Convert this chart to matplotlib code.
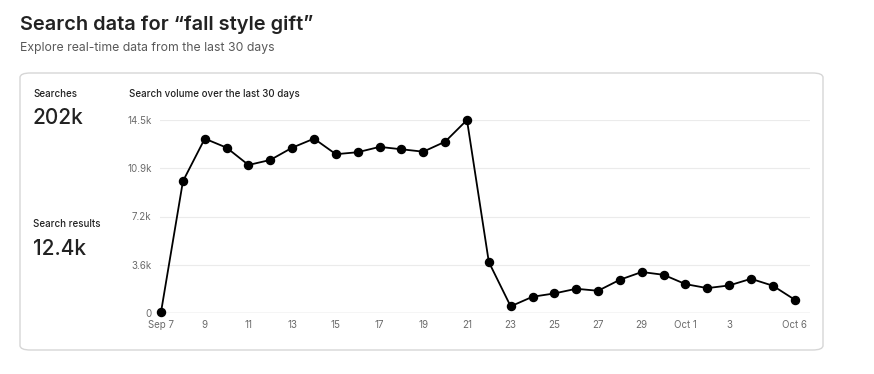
"""Search volume card for "fall style gift"."""

import matplotlib
matplotlib.use('Agg')
import matplotlib.pyplot as plt
from matplotlib.patches import FancyBboxPatch
import numpy as np

W, H = 874, 374

# Datos
dias = ['Sep 7', '8', '9', '10', '11', '12', '13', '14', '15', '16', '17',
        '18', '19', '20', '21', '22', '23', '24', '25', '26', '27', '28',
        '29', '30', 'Oct 1', '2', '3', '4', '5', 'Oct 6']
busquedas = [100, 9900, 13100, 12420, 11120, 11500, 12420, 13100, 11930,
             12080, 12480, 12300, 12120, 12870, 14500, 3830, 500, 1220,
             1470, 1820, 1670, 2500, 3080, 2870, 2170, 1870, 2070, 2570,
             2050, 1000]
y_ticks = [0, 3625, 7250, 10875, 14500]
y_labels = ['0', '3.6k', '7.2k', '10.9k', '14.5k']
x_tick_idx = [0, 2, 4, 6, 8, 10, 12, 14, 16, 18, 20, 22, 24, 26, 29]

plt.rcParams['font.family'] = ['Inter', 'DejaVu Sans']


def fx(px):
    return px / W


def fy(py):
    return 1 - py / H


fig = plt.figure(figsize=(W / 100, H / 100), dpi=100)
fig.patch.set_facecolor('white')

# Encabezado
fig.text(fx(20), fy(24), 'Search data for \u201cfall style gift\u201d',
         fontsize=14.4, fontweight='semibold', color='#222222', va='center')
fig.text(fx(20), fy(48), 'Explore real-time data from the last 30 days',
         fontsize=8.8, color='#595959', va='center')

# Tarjeta
card = FancyBboxPatch((fx(20), fy(350)), fx(803), fy(73) - fy(350),
                      boxstyle='round,pad=0,rounding_size=0.012',
                      transform=fig.transFigure, facecolor='white',
                      edgecolor='#d6d6d6', lw=1, zorder=-5)
fig.patches.append(card)

fig.text(fx(33), fy(94), 'Searches', fontsize=7, color='#222222',
         va='center', fontweight='medium')
fig.text(fx(33), fy(118), '202k', fontsize=15, color='#222222',
         va='center', fontweight='medium')
fig.text(fx(33), fy(224), 'Search results', fontsize=7, color='#222222',
         va='center', fontweight='medium')
fig.text(fx(33), fy(249), '12.4k', fontsize=15, color='#222222',
         va='center', fontweight='medium')
fig.text(fx(129), fy(94), 'Search volume over the last 30 days', fontsize=7,
         color='#222222', va='center', fontweight='medium')

# Gráfico
ax = fig.add_axes([fx(160), fy(313), fx(810) - fx(160), fy(120) - fy(313)])
ax.set_zorder(2)
ax.patch.set_visible(False)
x = np.arange(len(busquedas))
ax.plot(x, busquedas, color='black', lw=1.3, marker='o', markersize=5.8,
        clip_on=False, zorder=3)
ax.set_xlim(-0.05, 29.7)
ax.set_ylim(0, 14500)

for s in ax.spines.values():
    s.set_visible(False)
for t in y_ticks[1:]:
    ax.axhline(t, color='#ebebeb', lw=0.8, zorder=0)
ax.axhline(0, color='#cfcfcf', lw=1, zorder=1)

ax.set_yticks(y_ticks)
ax.set_yticklabels(y_labels)
ax.set_xticks(x_tick_idx)
ax.set_xticklabels([dias[i] for i in x_tick_idx])
ax.tick_params(length=0, labelsize=7, labelcolor='#6b6b6b')
ax.tick_params(axis='y', pad=6)
ax.tick_params(axis='x', pad=5)

fig.savefig('out.png', dpi=100)
